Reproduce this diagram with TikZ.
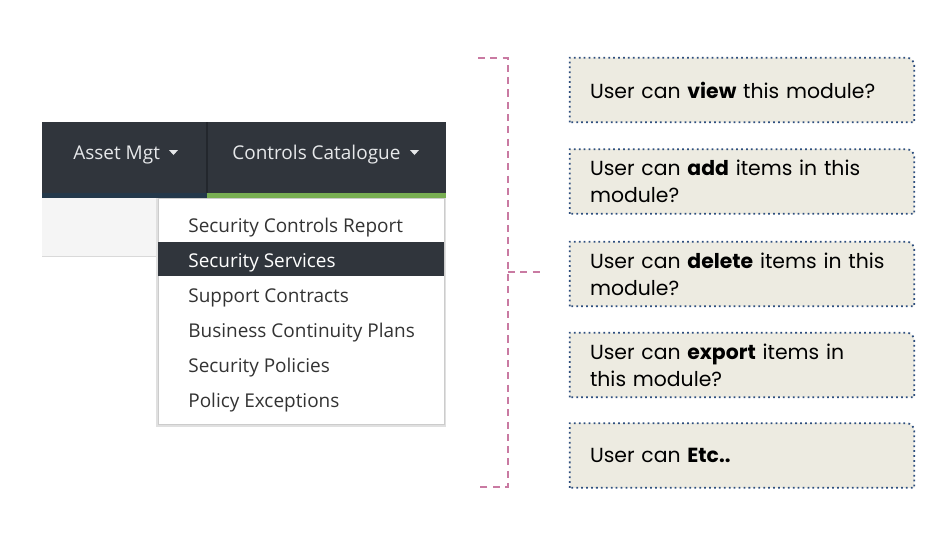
\documentclass[tikz,border=0pt]{standalone}
\usepackage{fontspec}
\setmainfont{Open Sans}
\newfontfamily\qfont{Poppins}
\usetikzlibrary{backgrounds}
\definecolor{navdark}{HTML}{30353C}
\definecolor{navline}{HTML}{23272D}
\definecolor{navblue}{HTML}{24384A}
\definecolor{navgreen}{HTML}{78AE52}
\definecolor{navtext}{HTML}{E6E8EA}
\definecolor{menutext}{HTML}{333333}
\definecolor{bracketpink}{HTML}{C97AA2}
\definecolor{dotblue}{HTML}{2D4E7E}
\definecolor{boxfill}{HTML}{EDEBE1}
\tikzset{
  navlabel/.style={anchor=base west, inner sep=0pt, text=navtext, font=\fontsize{10.8}{13}\selectfont},
  menuitem/.style={anchor=base west, inner sep=0pt, font=\fontsize{10.8}{13}\selectfont},
  question/.style={minimum width=6.88cm, minimum height=1.28cm, text width=6.08cm, inner xsep=0.4cm,
    inner ysep=0pt, align=left, font=\qfont\fontsize{11.6}{15.3}\selectfont},
  qbox/.style={draw=dotblue, fill=boxfill, line width=1pt, dash pattern=on 1pt off 1.8pt},
  bracket/.style={draw=bracketpink, line width=0.8pt, dash pattern=on 4pt off 3pt}
}
\begin{document}
\begin{tikzpicture}[x=0.02cm,y=-0.02cm]
\useasboundingbox (0,0) rectangle (948,552);
% menu bar
\fill[navdark] (42,122) rectangle (446,198);
\fill[navblue] (42,193) rectangle (207,198);
\fill[navgreen] (207,193) rectangle (446,198);
\draw[navline, line width=0.8pt] (207,122) -- (207,193);
\node[navlabel] (asset) at (73,159) {Asset Mgt};
\node[navlabel] (catalogue) at (232,159) {Controls Catalogue};
\fill[navtext] (169,150) -- (178,150) -- (173.5,155) -- cycle;
\fill[navtext] (410,150) -- (419,150) -- (414.5,155) -- cycle;
% page strip under the bar
\fill[black!4] (42,198) rectangle (158,256);
\draw[black!15] (42,256) -- (158,256);
% dropdown
\fill[black!12] (156,198) rectangle (446,427);
\draw[black!20, fill=white] (158,198) rectangle (444,424);
\fill[navdark] (158,242) rectangle (444,276);
\foreach \item/\col [count=\i] in {Security Controls Report/menutext, Security Services/white,
    Support Contracts/menutext, Business Continuity Plans/menutext,
    Security Policies/menutext, Policy Exceptions/menutext}
  \node[menuitem, text=\col] (item\i) at (188,197+35*\i) {\item};
% bracket
\coordinate (btop) at (478,58);
\coordinate (bbot) at (478,487);
\coordinate (bmid) at (508,272);
\coordinate (btip) at (540,272);
\draw[bracket] (btop) -- (508,58) -- (508,487) -- (bbot);
\draw[bracket] (bmid) -- (btip);
% questions
\node[question] (view) at (742,90) {User can \textbf{view} this module?};
\node[question] (add) at (742,181.5) {User can \textbf{add} items in this\\module?};
\node[question] (delete) at (742,274) {User can \textbf{delete} items in this\\module?};
\node[question] (export) at (742,365) {User can \textbf{export} items in\\this module?};
\node[question] (etc) at (742,455.5) {User can \textbf{Etc..}};
\begin{scope}[on background layer]
\foreach \q in {view,add,delete,export,etc}
  \draw[qbox] (\q.south west) -- (\q.north west) -- ([xshift=-4.5pt]\q.north east)
    arc[start angle=90, end angle=0, radius=4.5pt] -- (\q.south east) -- cycle;
\end{scope}
\end{tikzpicture}
\end{document}
